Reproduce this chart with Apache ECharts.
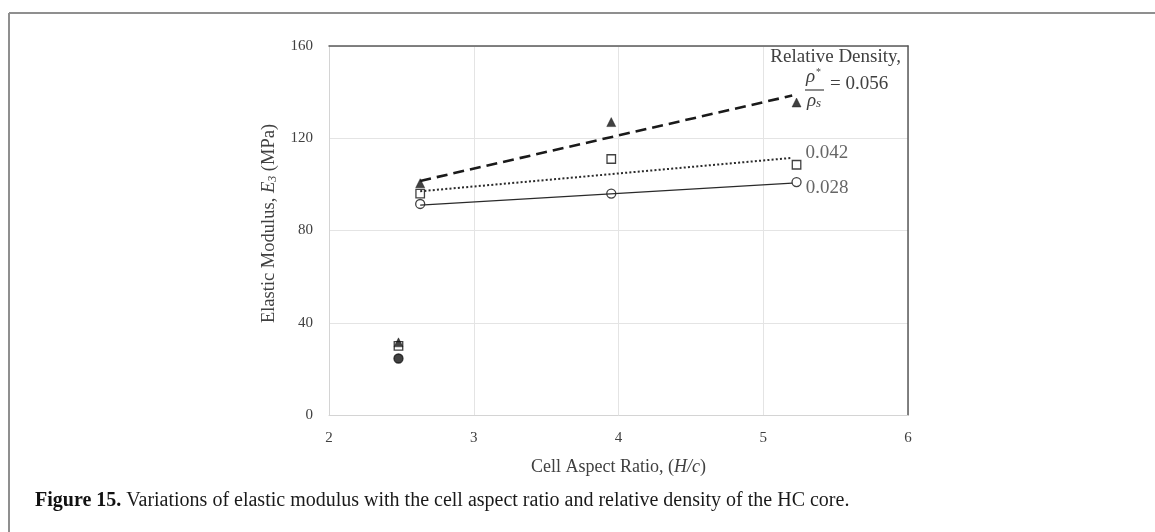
<!DOCTYPE html>
<html>
<head>
<meta charset="utf-8">
<title>Elastic modulus vs cell aspect ratio</title>
<script src="https://cdn.jsdelivr.net/npm/echarts@6/dist/echarts.min.js"></script>
<style>
  html, body { margin: 0; padding: 0; background: #ffffff; }
  #chart { width: 1155px; height: 532px; }
</style>
</head>
<body>
<div id="chart"></div>
<script>
// Measured points: cell aspect ratio (H/c) against elastic modulus E3 (MPa)
const aspectRatio = [2.48, 2.63, 3.95, 5.23];
const modulus056 = [31.5, 100.5, 127, 135.5];
const modulus042 = [30, 96, 111, 108.5];
const modulus028 = [24.5, 91.5, 96, 101];

// Trend lines for each relative density (end points)
const trendAspect = [2.63, 5.2];
const trend056 = [101.5, 138.5];
const trend042 = [97, 111.5];
const trend028 = [91, 100.5];

// Axis ticks
const xTicks = [2, 3, 4, 5, 6];
const yTicks = [0, 40, 80, 120, 160];

const densityLabels = ['0.056', '0.042', '0.028'];

const serif = "'Liberation Serif', 'Times New Roman', serif";
const textGray = '#404040';

const pairs = (xs, ys) => xs.map((x, i) => [x, ys[i]]);

const chart = echarts.init(document.getElementById('chart'), null, { renderer: 'canvas' });

const axisText = { fontFamily: serif, fontSize: 15, color: textGray };

const option = {
  backgroundColor: '#ffffff',
  animation: false,
  grid: { left: 329, right: 247, top: 46, bottom: 117 },
  xAxis: [
    {
      type: 'value',
      min: xTicks[0],
      max: xTicks[xTicks.length - 1],
      interval: 1,
      position: 'bottom',
      axisLine: { show: true, onZero: false, lineStyle: { color: '#d4d4d4', width: 1 } },
      axisTick: { show: false },
      splitLine: { show: true, lineStyle: { color: '#e4e4e4', width: 1 } },
      axisLabel: Object.assign({ margin: 16 }, axisText),
      name: 'Cell Aspect Ratio, ({i|H/c})',
      nameLocation: 'middle',
      nameGap: 43,
      nameTextStyle: {
        fontFamily: serif, fontSize: 18, color: textGray,
        rich: { i: { fontFamily: serif, fontSize: 18, fontStyle: 'italic', color: textGray } }
      }
    },
    {
      type: 'value',
      min: xTicks[0],
      max: xTicks[xTicks.length - 1],
      interval: 1,
      position: 'top',
      axisLine: { show: true, onZero: false, lineStyle: { color: '#5a5a5a', width: 1.5 } },
      axisTick: { show: false },
      axisLabel: { show: false },
      splitLine: { show: false }
    }
  ],
  yAxis: [
    {
      type: 'value',
      min: yTicks[0],
      max: yTicks[yTicks.length - 1],
      interval: 40,
      position: 'left',
      axisLine: { show: true, onZero: false, lineStyle: { color: '#d4d4d4', width: 1 } },
      axisTick: { show: false },
      splitLine: { show: true, lineStyle: { color: '#e4e4e4', width: 1 } },
      axisLabel: Object.assign({ margin: 16 }, axisText),
      name: 'Elastic Modulus, {i|E}{sub|3} (MPa)',
      nameLocation: 'middle',
      nameGap: 50,
      nameRotate: 90,
      nameTextStyle: {
        fontFamily: serif, fontSize: 18.5, color: textGray,
        padding: [0, 0, 0, 14],
        rich: {
          i: { fontFamily: serif, fontSize: 18.5, fontStyle: 'italic', color: textGray },
          sub: { fontFamily: serif, fontSize: 12, fontStyle: 'italic', color: textGray, verticalAlign: 'bottom', padding: [7, 0, 0, 0] }
        }
      }
    },
    {
      type: 'value',
      min: yTicks[0],
      max: yTicks[yTicks.length - 1],
      interval: 40,
      position: 'right',
      axisLine: { show: true, onZero: false, lineStyle: { color: '#5a5a5a', width: 1.5 } },
      axisTick: { show: false },
      axisLabel: { show: false },
      splitLine: { show: false }
    }
  ],
  series: [
    // trend lines
    {
      name: 'trend ' + densityLabels[0], type: 'line', xAxisIndex: 0, yAxisIndex: 0,
      data: pairs(trendAspect, trend056), showSymbol: false, silent: true,
      lineStyle: { color: '#1a1a1a', width: 2.6, type: [11, 6], cap: 'butt' }
    },
    {
      name: 'trend ' + densityLabels[1], type: 'line', xAxisIndex: 0, yAxisIndex: 0,
      data: pairs(trendAspect, trend042), showSymbol: false, silent: true,
      lineStyle: { color: '#2a2a2a', width: 2, type: [2, 2.2], cap: 'butt' }
    },
    {
      name: 'trend ' + densityLabels[2], type: 'line', xAxisIndex: 0, yAxisIndex: 0,
      data: pairs(trendAspect, trend028), showSymbol: false, silent: true,
      lineStyle: { color: '#2a2a2a', width: 1.2, type: 'solid' }
    },
    // measured points
    {
      name: densityLabels[2], type: 'scatter', symbol: 'circle', symbolSize: 9,
      data: pairs(aspectRatio, modulus028).map((p, i, arr) => {
        if (i === 0) return { value: p, itemStyle: { color: '#111111', borderColor: '#111111' } };
        if (i === arr.length - 1) return {
          value: p,
          label: {
            show: true, position: 'right', distance: 4, offset: [0, 6],
            formatter: densityLabels[2], fontFamily: serif, fontSize: 19, color: textGray
          }
        };
        return p;
      }),
      itemStyle: { color: '#ffffff', borderColor: '#111111', borderWidth: 1.3 }
    },
    {
      name: densityLabels[1], type: 'scatter', symbol: 'rect', symbolSize: 8.5,
      data: pairs(aspectRatio, modulus042).map((p, i, arr) => i === arr.length - 1 ? {
        value: p,
        label: {
          show: true, position: 'right', distance: 4, offset: [0, -12],
          formatter: densityLabels[1], fontFamily: serif, fontSize: 19, color: textGray
        }
      } : p),
      itemStyle: { color: '#ffffff', borderColor: '#111111', borderWidth: 1.3 }
    },
    {
      name: densityLabels[0], type: 'scatter', symbol: 'triangle', symbolSize: 9,
      data: pairs(aspectRatio, modulus056),
      itemStyle: { color: '#111111', borderColor: '#111111', borderWidth: 0.5 }
    }
  ],
  graphic: [
    // figure frame
    { type: 'line', shape: { x1: 9, y1: 13, x2: 1155, y2: 13 }, style: { stroke: '#8f8f8f', lineWidth: 2 }, silent: true },
    { type: 'line', shape: { x1: 9, y1: 13, x2: 9, y2: 532 }, style: { stroke: '#8f8f8f', lineWidth: 2 }, silent: true },
    // relative density annotation
    {
      type: 'text', right: 1155 - 901, top: 48,
      style: { text: 'Relative Density,', font: '19px ' + serif, fill: textGray }
    },
    {
      type: 'text', left: 806, top: 67,
      style: {
        text: '{i|ρ}{s|*}',
        rich: {
          i: { font: 'italic 19px ' + serif, fill: textGray },
          s: { font: '10px ' + serif, fill: textGray, verticalAlign: 'top', padding: [0, 0, 7, 1] }
        }
      }
    },
    { type: 'line', shape: { x1: 805, y1: 90, x2: 824, y2: 90 }, style: { stroke: textGray, lineWidth: 1.2 }, silent: true },
    {
      type: 'text', left: 807, top: 91,
      style: {
        text: '{i|ρ}{s|s}',
        rich: {
          i: { font: 'italic 19px ' + serif, fill: textGray },
          s: { font: 'italic 13px ' + serif, fill: textGray, verticalAlign: 'bottom', padding: [6, 0, 0, 0] }
        }
      }
    },
    {
      type: 'text', left: 830, top: 75,
      style: { text: '= ' + densityLabels[0], font: '19px ' + serif, fill: textGray }
    },
    // caption
    {
      type: 'text', left: 35, top: 491,
      style: {
        text: '{b|Figure 15.} Variations of elastic modulus with the cell aspect ratio and relative density of the HC core.',
        font: '20px ' + serif, fill: '#1a1a1a',
        rich: { b: { font: 'bold 20px ' + serif, fill: '#111111' } }
      }
    }
  ]
};

chart.setOption(option);
</script>
</body>
</html>
